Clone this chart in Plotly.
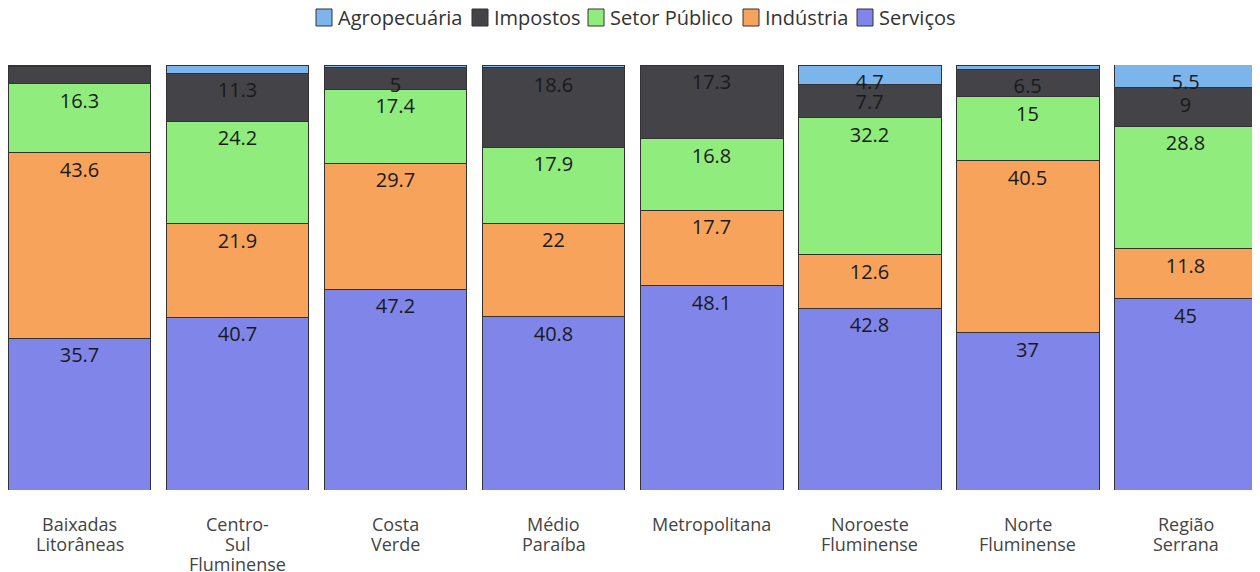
import plotly.graph_objects as go

regioes = ["Baixadas<br>Litorâneas", "Centro-<br>Sul<br>Fluminense", "Costa<br>Verde",
           "Médio<br>Paraíba", "Metropolitana", "Noroeste<br>Fluminense",
           "Norte<br>Fluminense", "Região<br>Serrana"]

servicos = [35.7, 40.7, 47.2, 40.8, 48.1, 42.8, 37.0, 45.0]
industria = [43.6, 21.9, 29.7, 22.0, 17.7, 12.6, 40.5, 11.8]
setor_publico = [16.3, 24.2, 17.4, 17.9, 16.8, 32.2, 15.0, 28.8]
impostos = [4.0, 11.3, 5.0, 18.6, 17.3, 7.7, 6.5, 9.0]
agropecuaria = [0.4, 1.9, 0.7, 0.7, 0.1, 4.7, 1.0, 5.5]

series = [
    ("Serviços", servicos, "#8085e9"),
    ("Indústria", industria, "#f7a35c"),
    ("Setor Público", setor_publico, "#90ed7d"),
    ("Impostos", impostos, "#434348"),
    ("Agropecuária", agropecuaria, "#7cb5ec"),
]

# figure geometry (pixels)
FIG_W, FIG_H = 1250, 564
M_L, M_R, M_T, M_B = 0, 1, 57, 82
PW = FIG_W - M_L - M_R
PH = FIG_H - M_T - M_B
BARW = 0.905
PLOT_TOP_PAGE = 65  # page px (8px body margin + top margin)
PLOT_BOT_PAGE = PLOT_TOP_PAGE + PH

fig = go.Figure()
for name, vals, color in series:
    fig.add_trace(go.Bar(
        x=list(range(len(regioes))), y=vals, name=name,
        marker=dict(color=color, line=dict(color="#333333", width=1)),
        text=[f"{v:g}" if v >= 4.5 else "" for v in vals],
        textposition="inside", insidetextanchor="end", constraintext="none",
        textfont=dict(size=20, color="#1a1a1a", family="Open Sans"),
        textangle=0, showlegend=False,
    ))

# custom legend (symbol left edges in page px, offset by 8px body margin)
legend_px = [316, 472, 588, 743, 857]
for (name, vals, color), px in zip(reversed(series), legend_px):
    fx = px - 8 - M_L
    fig.add_shape(type="rect", xref="paper", yref="paper",
                  x0=fx / PW, x1=(fx + 16) / PW,
                  y0=1 + (PLOT_TOP_PAGE - 26) / PH, y1=1 + (PLOT_TOP_PAGE - 9) / PH,
                  fillcolor=color, line=dict(color="#333333", width=1))
    fig.add_annotation(xref="paper", yref="paper", x=(fx + 20) / PW,
                       y=1 + (PLOT_TOP_PAGE - 17.5) / PH,
                       xanchor="left", yanchor="middle", showarrow=False, text=name,
                       font=dict(size=20, color="#333333", family="Open Sans"))

# category labels, one annotation per line for tighter line spacing
for i, lab in enumerate(regioes):
    for k, line in enumerate(lab.split("<br>")):
        py = 523.5 + 20 * k
        fig.add_annotation(xref="x", yref="paper", x=i, y=(PLOT_BOT_PAGE - py) / PH,
                           xanchor="center", yanchor="middle", showarrow=False, text=line,
                           font=dict(size=18, color="#444444", family="Open Sans"))

fig.update_layout(
    barmode="stack",
    bargap=1 - BARW,
    width=FIG_W, height=FIG_H,
    margin=dict(l=M_L, r=M_R, t=M_T, b=M_B, autoexpand=False),
    paper_bgcolor="white", plot_bgcolor="white",
    font=dict(family="Open Sans", color="#333333"),
    showlegend=False,
    xaxis=dict(showgrid=False, showline=False, zeroline=False, ticks="",
               showticklabels=False,
               range=[-BARW / 2, len(regioes) - 1 + BARW / 2], automargin=False),
    yaxis=dict(range=[0, 100], visible=False, automargin=False),
)

fig.write_html("out.html")
